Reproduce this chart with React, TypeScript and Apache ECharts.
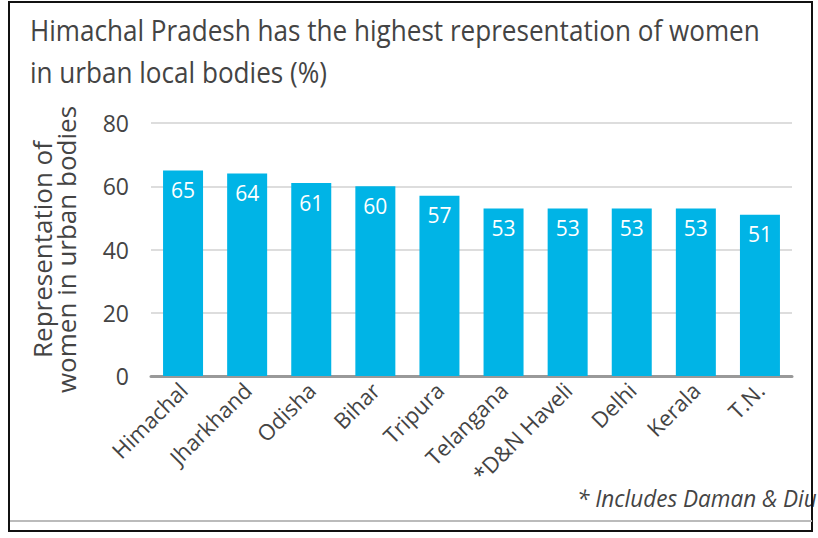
import React, { useEffect, useRef } from "react";
import * as echarts from "echarts";

const categories = ["Himachal", "Jharkhand", "Odisha", "Bihar", "Tripura", "Telangana", "*D&N Haveli", "Delhi", "Kerala", "T.N."];
const values = [65, 64, 61, 60, 57, 53, 53, 53, 53, 51];
const titleLines = ["Himachal Pradesh has the highest representation of women", "in urban local bodies (%)"];
const yAxisName = "Representation of\nwomen in urban bodies";
const footnote = "* Includes Daman & Diu";

export default function App() {
  const ref = useRef<HTMLDivElement>(null);
  useEffect(() => {
    const chart = echarts.init(ref.current!, null, { renderer: "svg" });
    chart.setOption({
      animation: false,
      backgroundColor: "#ffffff",
      grid: { left: 151, right: 26, top: 123, bottom: 162 },
      xAxis: {
        type: "category",
        data: categories,
        axisLine: { lineStyle: { color: "#999999", width: 3 } },
        axisTick: { show: false },
        axisLabel: { rotate: 45, interval: 0, fontFamily: "Open Sans", fontSize: 22, color: "#444444", margin: 10 },
      },
      yAxis: {
        type: "value",
        min: 0,
        max: 80,
        interval: 20,
        name: yAxisName,
        nameLocation: "middle",
        nameGap: 73,
        nameRotate: 90,
        nameTextStyle: { fontFamily: "Open Sans", fontSize: 26, color: "#444444", lineHeight: 24 },
        axisLine: { show: false },
        axisTick: { show: false },
        axisLabel: { fontFamily: "Open Sans", fontSize: 23, color: "#444444", margin: 22 },
        splitLine: { lineStyle: { color: "#dddddd", width: 2 } },
      },
      series: [
        {
          type: "bar",
          data: values,
          barWidth: 40,
          itemStyle: { color: "#00b4e6" },
          label: { show: true, position: "insideTop", distance: 9, color: "#ffffff", fontFamily: "Open Sans", fontSize: 21 },
        },
      ],
      graphic: [
        { type: "text", x: 30, y: 14, scaleX: 0.87, style: { text: titleLines[0], fontFamily: "Open Sans", fontSize: 30, fill: "#444444" } },
        { type: "text", x: 30, y: 56, scaleX: 0.87, style: { text: titleLines[1], fontFamily: "Open Sans", fontSize: 30, fill: "#444444" } },
        { type: "text", x: 577, y: 487, scaleX: 0.98, style: { text: footnote, fontFamily: "Open Sans", fontStyle: "italic", fontSize: 23, fill: "#444444" } },
        { type: "rect", shape: { x: 9, y: 2, width: 803, height: 529 }, style: { fill: "none", stroke: "#111111", lineWidth: 2 } },
        { type: "line", shape: { x1: 10, y1: 521, x2: 812, y2: 521 }, style: { stroke: "#bbbbbb", lineWidth: 2 } },
      ],
    });
    return () => chart.dispose();
  }, []);
  return <div ref={ref} style={{ width: 818, height: 538, position: "absolute", left: 0, top: 0 }} />;
}
